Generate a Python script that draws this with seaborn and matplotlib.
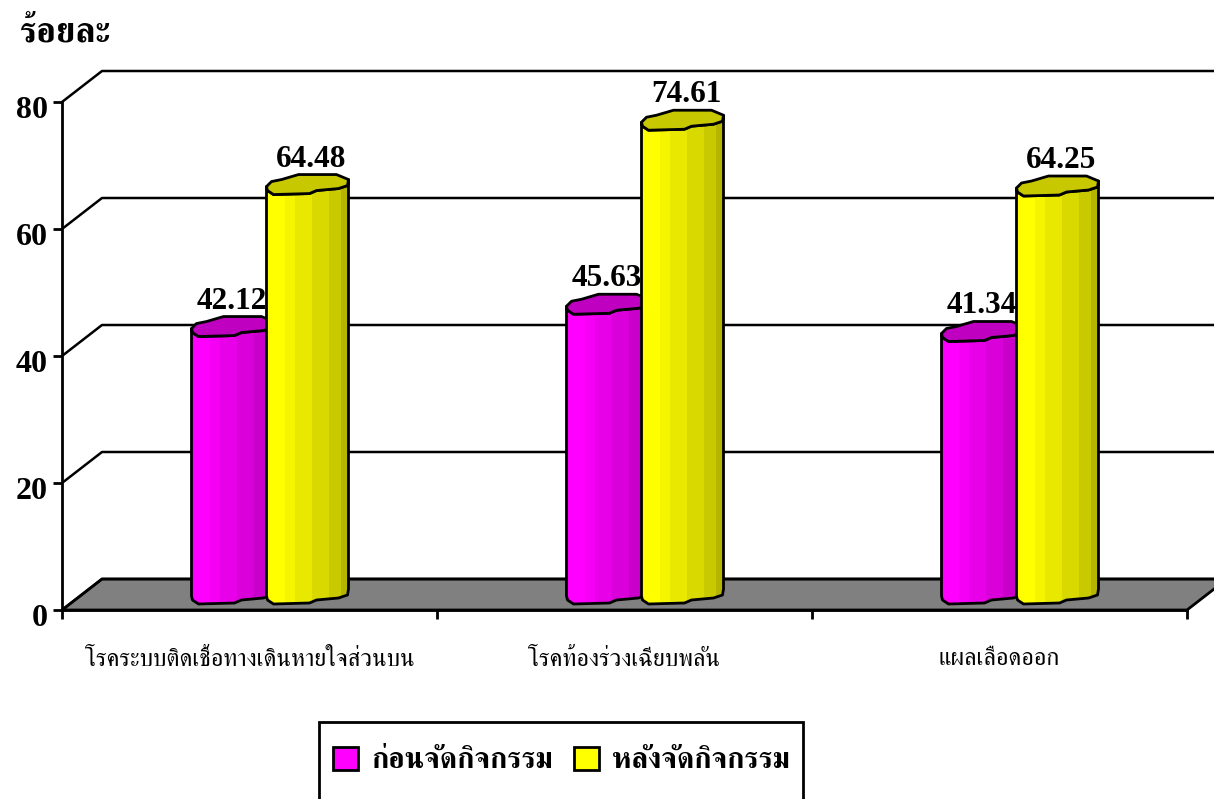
import logging
import matplotlib
matplotlib.use('Agg')
import matplotlib.pyplot as plt
import pandas as pd
import seaborn as sns
from matplotlib.patches import Polygon, Rectangle, Patch
from matplotlib.path import Path
from matplotlib.transforms import IdentityTransform, Affine2D
logging.getLogger('matplotlib.font_manager').setLevel(logging.ERROR)

categories = ['โรคระบบติดเชื้อทางเดินหายใจส่วนบน', 'โรคท้องร่วงเฉียบพลัน', 'แผลเลือดออก']
series_names = ['ก่อนจัดกิจกรรม', 'หลังจัดกิจกรรม']
before = [42.12, 45.63, 41.34]
after = [64.48, 74.61, 64.25]
y_ticks = [0, 20, 40, 60, 80]
y_title = 'ร้อยละ'

sns.set_style('white')
THAI = ['FreeSerif', 'Norasi', 'Loma', 'DejaVu Sans']
LATIN = ['Liberation Serif', 'DejaVu Serif']
plt.rcParams['font.family'] = THAI
plt.rcParams['text.color'] = 'black'
plt.rcParams['xtick.color'] = 'black'
plt.rcParams['ytick.color'] = 'black'
plt.rcParams['axes.labelcolor'] = 'black'

W, H = 1214, 799
fig = plt.figure(figsize=(W / 100, H / 100), dpi=100)
L, R, T, B = 62, 1187, 102, 610
ax = fig.add_axes([L / W, 1 - B / H, (R - L) / W, (B - T) / H])

df = pd.DataFrame({
    'cat': categories * 2,
    'val': before + after,
    'ser': [series_names[0]] * 3 + [series_names[1]] * 3,
})
face = ['#ff00ff', '#ffff00']
top_face = ['#c000c0', '#c8c800']
sns.barplot(data=df, x='cat', y='val', hue='ser', order=categories, hue_order=series_names,
            palette=face, width=0.4, gap=0, legend=False, ax=ax, saturation=1)
ax.set_xlim(-0.5, 2.5)
ax.set_ylim(0, 80)
ax.set_xlabel('')
ax.set_ylabel('')
ax.patch.set_alpha(0)

for s in ['top', 'right']:
    ax.spines[s].set_visible(False)
for s in ['left', 'bottom']:
    ax.spines[s].set_linewidth(2)
    ax.spines[s].set_zorder(2.5)
    ax.spines[s].set_color('black')

ax.set_yticks(y_ticks)
ax.set_yticklabels([str(v) for v in y_ticks], fontfamily=LATIN, fontweight='bold', fontsize=23)
ax.tick_params(axis='y', left=True, length=6.5, width=2, pad=3.5, color='black', labelcolor='black')
for lab in ax.get_yticklabels():
    lab.set_transform(lab.get_transform() + Affine2D().translate(0, -5))
ax.set_xticks([-0.5, 0.5, 1.5, 2.5])
ax.set_xticklabels([])
ax.tick_params(axis='x', which='major', bottom=True, length=6.5, width=2, color='black')
ax.set_xticks([0, 1, 2], minor=True)
ax.set_xticklabels(categories, minor=True, fontsize=17.5, color='black')
ax.tick_params(axis='x', which='minor', bottom=False, length=0, pad=28)

DX, DY = 40, 31   # depth of the box, pixels
ident = IdentityTransform()


def d(x, y):
    return ax.transData.transform((x, y))


# floor
p0, p1 = d(-0.5, 0), d(2.5, 0)
ax.add_patch(Polygon([p0, p0 + (DX, DY), p1 + (DX, DY), p1], closed=True, transform=ident,
                     facecolor='#808080', edgecolor='black', lw=2, zorder=0.5, clip_on=False))
# wall grid
for v in y_ticks:
    a, b = d(-0.5, v), d(2.5, v)
    ax.plot([a[0], a[0] + DX, b[0] + DX], [a[1], a[1] + DY, b[1] + DY], transform=ident,
            color='black', lw=1.8, zorder=1, clip_on=False)

# profile of one bar, in pixels from its left edge (x right, y up from the front line)
FRONT = [(0, 8), (1, 4), (7, 0), (43, 1), (50, 4), (72, 6), (81, 9), (82, 15)]
TOP = [(0, 8), (5, 13), (15, 15), (32, 20), (70, 20), (82, 15), (81, 9), (72, 6),
       (50, 4), (43, 1), (7, 0), (1, 4)]
BAND_EDGES = [0, 18, 28, 45, 62, 74, 82]
BAND_SHADE = [1.0, 0.96, 0.91, 0.85, 0.79, 0.71]
BAR_DX, BAR_DY = 17, 6
LABEL_SHIFT = [2.5, 7.5]

bars = [b for b in ax.patches if isinstance(b, Rectangle)]
rgb = [matplotlib.colors.to_rgb(c) for c in face]
values = [before, after]
for i, bar in enumerate(bars):
    s = i // 3
    c = i % 3
    z = 3 + 2 * s
    x0, _ = d(bar.get_x(), 0)
    x0 += BAR_DX
    yb = d(0, 0)[1] + BAR_DY
    yt = d(0, values[s][c])[1] + BAR_DY
    body = [(x0 + px, yt + py) for px, py in FRONT] + \
           [(x0 + px, yb + py) for px, py in reversed(FRONT)]
    clip = Path(body + [body[0]], closed=True)
    bar.set_transform(ax.transData + Affine2D().translate(BAR_DX, BAR_DY))
    bar.set_zorder(z)
    bar.set_clip_path(clip, ident)
    for k, m in enumerate(BAND_SHADE):
        r = Rectangle((x0 + BAND_EDGES[k], yb), BAND_EDGES[k + 1] - BAND_EDGES[k] + 1, yt - yb + 20,
                      transform=ident, facecolor=[ch * m for ch in rgb[s]], edgecolor='none', zorder=z)
        ax.add_patch(r)
        r.set_clip_path(clip, ident)
    ax.add_patch(Polygon(body, closed=True, transform=ident, facecolor='none', edgecolor='black',
                         lw=2, zorder=z + 0.1, clip_on=False, joinstyle='round'))
    ax.add_patch(Polygon([(x0 + px, yt + py) for px, py in TOP], closed=True, transform=ident,
                         facecolor=top_face[s], edgecolor='black', lw=2, zorder=z + 0.2,
                         clip_on=False, joinstyle='round'))
    ax.annotate(f'{values[s][c]:.2f}', xy=(bar.get_x() + bar.get_width() / 2, values[s][c]),
                xytext=(BAR_DX + LABEL_SHIFT[s], BAR_DY + 28), textcoords='offset pixels', ha='center', va='baseline',
                fontfamily=LATIN, fontweight='bold', fontsize=22.5, color='black',
                zorder=z + 1, annotation_clip=False)

fig.text(20 / W, 1 - 41 / H, y_title, fontsize=25.5, fontweight='bold', ha='left', va='baseline')

handles = [Patch(facecolor=f, edgecolor='black', lw=2) for f in face]
leg = fig.legend(handles, series_names, loc='center', bbox_to_anchor=(561.5 / W, 1 - 760.5 / H), ncol=2,
                 frameon=False, borderpad=0.3,
                 handlelength=0.86, handleheight=0.86, handletextpad=0.45, columnspacing=0.7,
                 prop={'family': THAI, 'weight': 'bold', 'size': 21})
fig.add_artist(Rectangle((319 / W, -0.1), (803 - 319) / W, 1 - 722 / H + 0.1, transform=fig.transFigure,
                         facecolor='none', edgecolor='black', lw=2))

fig.savefig('out.png', dpi=100)
